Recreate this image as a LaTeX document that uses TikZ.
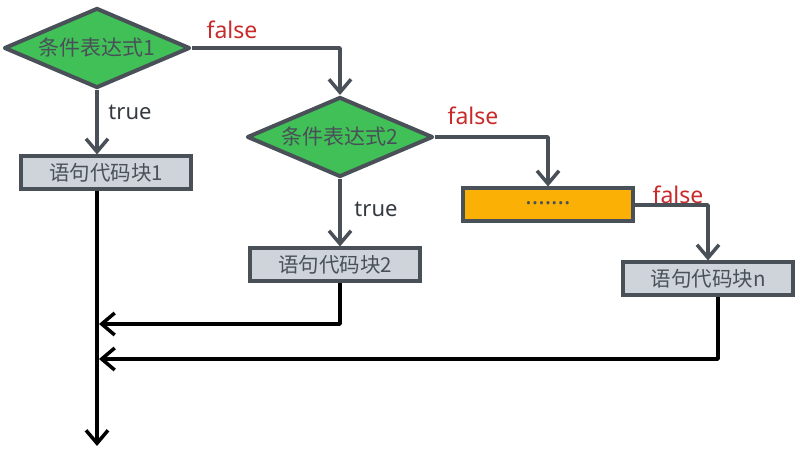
\documentclass[tikz,border=0pt]{standalone}
\usepackage{fontspec}
\usetikzlibrary{shapes.geometric,arrows.meta}
\newfontfamily\cjk{Noto Sans CJK SC}
\newfontfamily\lat{Noto Sans}
\definecolor{strk}{HTML}{495057}
\definecolor{grn}{HTML}{40C057}
\definecolor{gry}{HTML}{CED4DA}
\definecolor{org}{HTML}{FAB005}
\definecolor{redt}{HTML}{C92A2A}
\definecolor{dtx}{HTML}{343A40}
\tikzset{
  cond/.style={diamond, draw=strk, fill=grn, line width=4pt, line join=round, inner sep=0pt,
    aspect=2.3, minimum width=186pt, minimum height=80pt, font=\cjk\fontsize{21}{22}\selectfont, text=strk},
  blk/.style={rectangle, draw=strk, fill=gry, line width=4pt, inner sep=0pt,
    minimum width=170pt, minimum height=33pt, font=\cjk\fontsize{20.5}{22}\selectfont, text=strk},
  dotsbox/.style={blk, fill=org, font=\lat\bfseries\fontsize{24}{26}\selectfont},
  conn/.style={draw=strk, line width=3.5pt, line join=round, -{Straight Barb[length=13pt,width=22pt,line width=3.5pt]}},
  bconn/.style={draw=black, line width=3.5pt, line join=round, -{Straight Barb[length=13pt,width=22pt,line width=3.5pt]}},
  flab/.style={font=\lat\fontsize{23}{25}\selectfont, text=redt},
  tlab/.style={font=\lat\fontsize{22}{24}\selectfont, text=dtx},
}
\begin{document}
\begin{tikzpicture}[x=1pt,y=-1pt]
\path[use as bounding box] (0,0) rectangle (804,454);
\node[cond] (d1) at (97,48) {条件表达式1};
\node[cond] (d2) at (340,137) {条件表达式2};
\node[blk] (b1) at (106,173) {语句代码块1};
\node[blk] (b2) at (335,265) {语句代码块2};
\node[dotsbox] (dots) at (548,205) {\raisebox{4pt}{.......}};
\node[blk] (bn) at (708,279) {语句代码块n};
\coordinate (e1) at (97,446);
\coordinate (j1) at (99,324);
\coordinate (j2) at (99,359);
\node[flab] (f1) at (232,30) {false};
\node[flab] (f2) at (473,116) {false};
\node[flab] (f3) at (678,195) {false};
\node[tlab] (t1) at (130,112) {true};
\node[tlab] (t2) at (376,209) {true};
\draw[conn] (d1.east) -| (d2.north);
\draw[conn] (d1.south) -- (d1.south |- b1.north);
\draw[conn] (d2.south) -- (d2.south |- b2.north);
\draw[conn] (d2.east) -| (dots.north);
\draw[conn] (dots.east) -| (bn.north);
\draw[bconn] (b1.south -| d1.south) -- (e1);
\draw[bconn] (b2.south -| d2.south) |- (j1);
\draw[bconn] ([xshift=10pt]bn.south) |- (j2);
\end{tikzpicture}
\end{document}
